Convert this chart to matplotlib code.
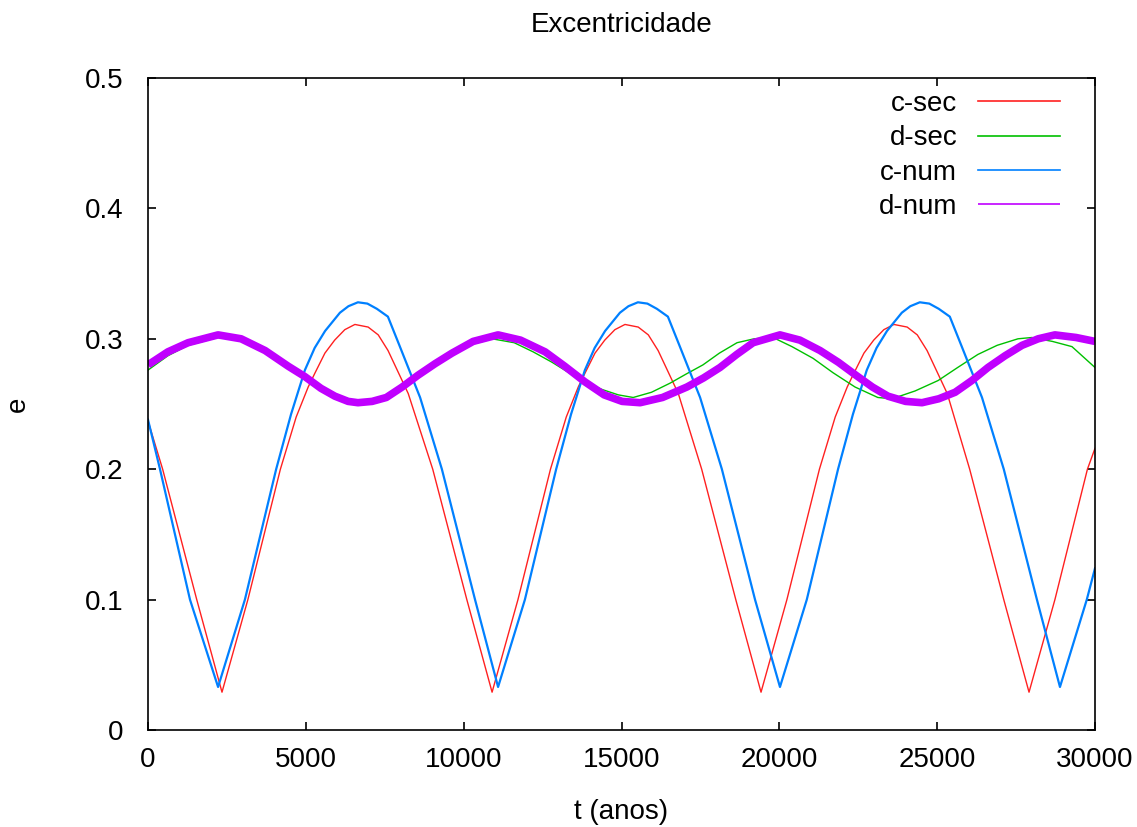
import numpy as np
import matplotlib
matplotlib.use("Agg")
import matplotlib.pyplot as plt

# dados (t em anos, e = excentricidade)
t_c_sec = [0, 464, 1544, 2344, 3164, 4194, 4694, 5074, 5284, 5604, 5914, 6234, 6554,
           6974, 7294, 7604, 8244, 9020, 10100, 10900, 11720, 12750, 13250, 13630,
           13840, 14160, 14470, 14790, 15110, 15530, 15850, 16160, 16800, 17540,
           18620, 19420, 20240, 21270, 21770, 22150, 22360, 22680, 22990, 23310,
           23630, 24050, 24370, 24680, 25320, 26030, 27110, 27910, 28730, 29760, 30000]
e_c_sec = [0.237, 0.200, 0.100, 0.029, 0.100, 0.200, 0.240, 0.263, 0.2735, 0.289, 0.299, 0.307, 0.311,
           0.309, 0.303, 0.291, 0.258, 0.200, 0.100, 0.029, 0.100, 0.200, 0.240, 0.263,
           0.2735, 0.289, 0.299, 0.307, 0.311, 0.309, 0.303, 0.291, 0.258, 0.200,
           0.100, 0.029, 0.100, 0.200, 0.240, 0.263, 0.2735, 0.289, 0.299, 0.307,
           0.311, 0.309, 0.303, 0.291, 0.258, 0.200, 0.100, 0.029, 0.100, 0.200, 0.216]

t_d_sec = [0, 630, 1270, 2200, 2950, 3700, 4400, 5000, 5450, 5900, 6650, 7100, 7600,
           8050, 8550, 9100, 9630, 10300, 10900, 11600, 12200, 12800, 13400, 13900,
           14400, 14900, 15370, 15950, 16540, 17050, 17580, 18100, 18660, 19200,
           19800, 20400, 21070, 21700, 22400, 23120, 23570, 24300, 25030, 25650,
           26290, 26900, 27560, 28000, 28650, 29270, 30000]
e_d_sec = [0.276, 0.287, 0.295, 0.301, 0.299, 0.292, 0.280, 0.270, 0.263, 0.257, 0.252, 0.253, 0.256,
           0.262, 0.271, 0.280, 0.288, 0.296, 0.300, 0.297, 0.290, 0.282, 0.273, 0.266,
           0.261, 0.257, 0.255, 0.259, 0.266, 0.273, 0.280, 0.289, 0.297, 0.300,
           0.301, 0.294, 0.285, 0.274, 0.263, 0.255, 0.254, 0.260, 0.268, 0.278,
           0.288, 0.295, 0.300, 0.301, 0.298, 0.294, 0.278]

t_c_num = [0, 380, 1330, 2220, 3070, 4060, 4530, 4970, 5280, 5610, 6080, 6350, 6650,
           6950, 7250, 7600, 7980, 8620, 9310, 10360, 11090, 11940, 12930, 13400,
           13840, 14150, 14480, 14950, 15220, 15520, 15820, 16120, 16470, 16850,
           17490, 18180, 19230, 20020, 20870, 21860, 22330, 22770, 23080, 23410,
           23880, 24150, 24450, 24750, 25050, 25400, 25780, 26420, 27110, 28160,
           28890, 29740, 30000]
e_c_num = [0.238, 0.200, 0.100, 0.033, 0.100, 0.200, 0.242, 0.276, 0.293, 0.306, 0.320, 0.325, 0.328,
           0.327, 0.323, 0.317, 0.294, 0.255, 0.200, 0.100, 0.033, 0.100, 0.200, 0.242,
           0.276, 0.293, 0.306, 0.320, 0.325, 0.328, 0.327, 0.323, 0.317, 0.294,
           0.255, 0.200, 0.100, 0.033, 0.100, 0.200, 0.242, 0.276, 0.293, 0.306,
           0.320, 0.325, 0.328, 0.327, 0.323, 0.317, 0.294, 0.255, 0.200, 0.100,
           0.033, 0.100, 0.124]

t_d_num = [0, 630, 1270, 2220, 2950, 3710, 4440, 4970, 5480, 5920, 6340, 6650, 7100,
           7550, 8050, 8550, 9100, 9630, 10300, 11090, 11800, 12580, 13200, 13840,
           14450, 15020, 15590, 16300, 17070, 17600, 18120, 18650, 19170, 20020,
           20650, 21290, 21870, 22430, 22950, 23440, 24000, 24520, 25050, 25570,
           26100, 26610, 27150, 27690, 28200, 28730, 29400, 30000]
e_d_num = [0.280, 0.290, 0.297, 0.303, 0.300, 0.291, 0.279, 0.271, 0.262, 0.256, 0.252, 0.251, 0.252,
           0.255, 0.263, 0.272, 0.281, 0.289, 0.298, 0.303, 0.299, 0.290, 0.279, 0.267,
           0.257, 0.252, 0.251, 0.255, 0.263, 0.270, 0.278, 0.288, 0.297, 0.303,
           0.299, 0.291, 0.282, 0.272, 0.263, 0.256, 0.252, 0.251, 0.254, 0.259,
           0.268, 0.278, 0.287, 0.295, 0.300, 0.303, 0.301, 0.298]

plt.rcParams['font.family'] = ['Liberation Sans', 'DejaVu Sans']
fs = 20

fig = plt.figure(figsize=(11.37, 8.27), dpi=100)
ax = fig.add_axes([148 / 1137, 97 / 827, 947 / 1137, 652 / 827])

ax.plot(t_c_sec, e_c_sec, color='#ff2020', lw=1.0, label='c-sec')
ax.plot(t_d_sec, e_d_sec, color='#00c000', lw=1.0, label='d-sec')
ax.plot(t_c_num, e_c_num, color='#0080ff', lw=1.6, label='c-num')
ax.plot(t_d_num, e_d_num, color='#c000ff', lw=5.5, label='d-num',
        solid_joinstyle='round', solid_capstyle='butt')

ax.set_xlim(0, 30000)
ax.set_ylim(0, 0.5)
ax.set_xticks([0, 5000, 10000, 15000, 20000, 25000, 30000])
ax.set_yticks([0, 0.1, 0.2, 0.3, 0.4, 0.5])
ax.set_yticklabels(['0', '0.1', '0.2', '0.3', '0.4', '0.5'])
ax.tick_params(direction='in', top=True, right=True, length=6, width=1.2,
               labelsize=fs)
ax.tick_params(axis='x', pad=12)
ax.tick_params(axis='y', pad=18)
for s in ax.spines.values():
    s.set_linewidth(1.2)

ax.set_xlabel('t (anos)', fontsize=fs, va='center')
ax.xaxis.set_label_coords(0.5, -82 / 652)
ax.set_ylabel('e', fontsize=fs, va='center')
ax.yaxis.set_label_coords(-130 / 947, 0.5)
fig.text((148 + 1095) / 2 / 1137, 1 - 25 / 827, 'Excentricidade', fontsize=fs,
         ha='center', va='center')

leg = ax.legend(loc='upper right', bbox_to_anchor=(1 - 35 / 947, 1 - 13 / 652),
                markerfirst=False, frameon=False, fontsize=fs,
                borderpad=0, borderaxespad=0,
                handlelength=2.95, handletextpad=0.75, labelspacing=0.3)
for ln in leg.get_lines():
    ln.set_linewidth(1.2)

fig.savefig('out.png', dpi=100)
